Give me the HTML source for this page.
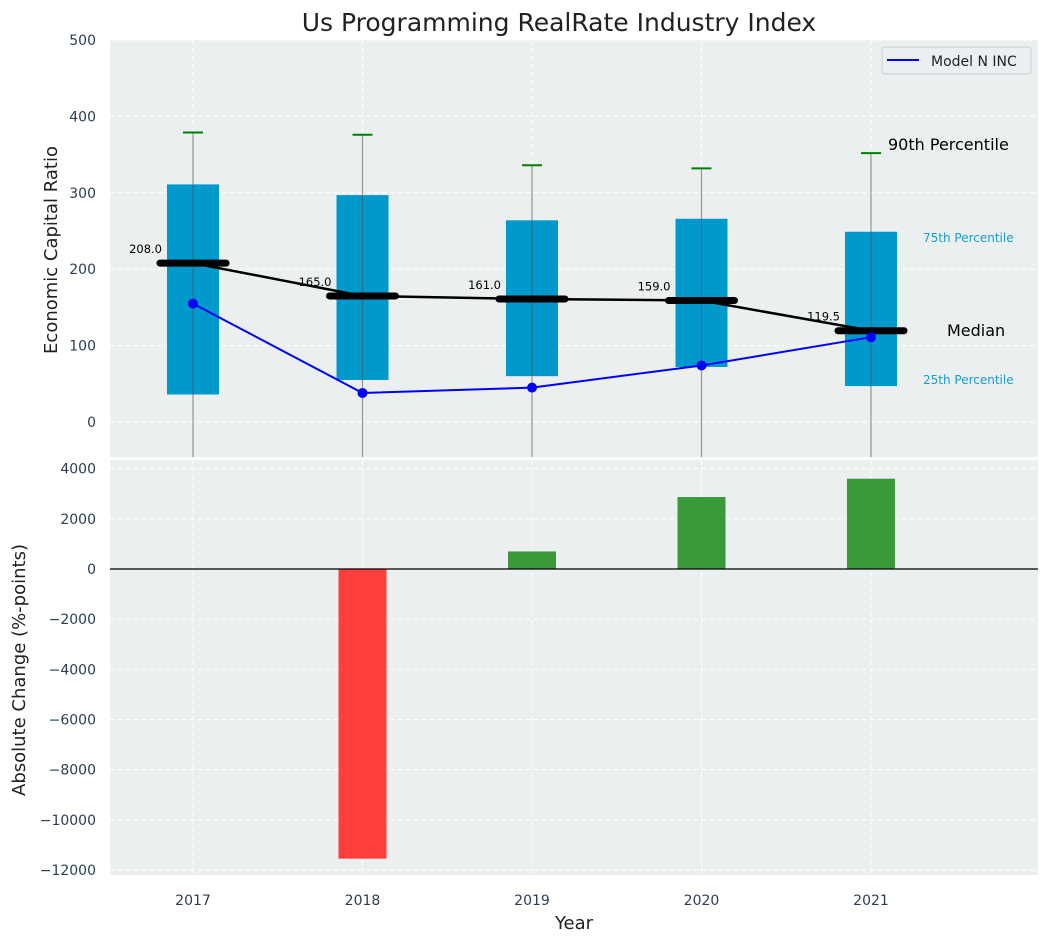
<!DOCTYPE html>
<html><head><meta charset="utf-8"><style>
body{margin:0;background:#fff;font-family:"Liberation Sans","DejaVu Sans",sans-serif}
svg text{font-family:"DejaVu Sans","Liberation Sans",sans-serif}
</style></head><body>
<svg id="c" width="1048" height="942" xmlns="http://www.w3.org/2000/svg"></svg>
<script>
const years=[2017,2018,2019,2020,2021];
const p90=[379,376,336,332,352];
const q3=[311,297,264,266,249];
const q1=[36,55,60,72,47];
const medians=[208,165,161,159,119.5];
const model=[155,38,45,74,111];
const changes=[0,-11550,700,2870,3600];
const topTicks=[0,100,200,300,400,500];
const botTicks=[4000,2000,0,-2000,-4000,-6000,-8000,-10000,-12000];

const svg=document.getElementById('c');const NS='http://www.w3.org/2000/svg';
function el(t,a,p){const e=document.createElementNS(NS,t);for(const k in a)e.setAttribute(k,a[k]);(p||svg).appendChild(e);return e;}
function txt(s,a,p){const e=el('text',a,p);e.textContent=s;return e;}
const L=110,R=1038;
const x=v=>193+(v-2017)*169.5;
const yT=v=>422-v*0.764;
const yB=v=>569-v*0.02508;
const gT=el('g',{});
el('rect',{x:L,y:40,width:R-L,height:417,fill:'#ebeff0'},gT);
topTicks.forEach(t=>{el('line',{x1:L,x2:R,y1:yT(t),y2:yT(t),stroke:'#fff','stroke-dasharray':'5,3'},gT);
const e=txt(t,{x:96,y:yT(t)+5,'text-anchor':'end','font-size':14,fill:'#2b3e55'},gT);});
years.forEach(yr=>el('line',{x1:x(yr),x2:x(yr),y1:40,y2:457,stroke:'#fff','stroke-dasharray':'5,3'},gT));
years.forEach((yr,i)=>{const cx=x(yr);
const b=el('rect',{x:cx-26,y:yT(q3[i]),width:52,height:yT(q1[i])-yT(q3[i]),fill:'#0099cc'},gT);

el('line',{x1:cx,x2:cx,y1:yT(p90[i]),y2:457,stroke:'#555','stroke-opacity':0.6,'stroke-width':1.2},gT);
const w=el('line',{x1:cx-10,x2:cx+10,y1:yT(p90[i]),y2:yT(p90[i]),stroke:'green','stroke-width':2},gT);
});
el('polyline',{points:years.map((yr,i)=>x(yr)+','+yT(medians[i])).join(' '),fill:'none',stroke:'#000','stroke-width':2.5},gT);
years.forEach((yr,i)=>{const cx=x(yr);
const m=el('line',{x1:cx-33,x2:cx+33,y1:yT(medians[i]),y2:yT(medians[i]),stroke:'#000','stroke-width':7,'stroke-linecap':'round'},gT);

const l=txt(medians[i].toFixed(1),{x:cx-31,y:yT(medians[i])-10,'text-anchor':'end','font-size':11.5,fill:'#000'},gT);
});
const ml=el('polyline',{points:years.map((yr,i)=>x(yr)+','+yT(model[i])).join(' '),fill:'none',stroke:'#0000ff','stroke-width':2},gT);

years.forEach((yr,i)=>{const d=el('circle',{cx:x(yr),cy:yT(model[i]),r:5,fill:'#0000ff'},gT);});
txt('90th Percentile',{x:888,y:150,'font-size':16,fill:'#000'},gT);
txt('75th Percentile',{x:923,y:242,'font-size':12,fill:'#1a9ccc'},gT);
txt('Median',{x:947,y:336,'font-size':16,fill:'#000'},gT);
txt('25th Percentile',{x:923,y:384,'font-size':12,fill:'#1a9ccc'},gT);
const lg=el('g',{},gT);
el('rect',{x:882,y:47,width:149,height:27,rx:3,fill:'#ebeef2',stroke:'#ccc'},lg);
el('line',{x1:887,x2:919,y1:60,y2:60,stroke:'#0000ff','stroke-width':2},lg);
txt('Model N INC',{x:931,y:66,'font-size':14,fill:'#222'},lg);
const gB=el('g',{});
el('rect',{x:L,y:460,width:R-L,height:415,fill:'#ebeff0'},gB);
botTicks.forEach(t=>{el('line',{x1:L,x2:R,y1:yB(t),y2:yB(t),stroke:'#fff','stroke-dasharray':'5,3'},gB);
const e=txt(t<0?'\u2212'+(-t):t,{x:96,y:yB(t)+5,'text-anchor':'end','font-size':14,fill:'#2b3e55'},gB);});
years.forEach(yr=>el('line',{x1:x(yr),x2:x(yr),y1:460,y2:875,stroke:'#fff','stroke-dasharray':'5,3'},gB));
years.forEach((yr,i)=>{const v=changes[i];
const e=txt(yr,{x:x(yr),y:905,'text-anchor':'middle','font-size':14,fill:'#2b3e55'},gB);

if(!v)return;
const b=el('rect',{x:x(yr)-24,y:Math.min(yB(v),yB(0)),width:48,height:Math.abs(yB(v)-yB(0)),fill:v<0?'#ff3e3e':'#3a9a3a'},gB);
});
el('line',{x1:L,x2:R,y1:yB(0),y2:yB(0),stroke:'#000','stroke-width':1.2},gB);
const t1=txt('Us Programming RealRate Industry Index',{x:559,y:31,'text-anchor':'middle','font-size':25,fill:'#222'});
const a1=txt('Economic Capital Ratio',{x:0,y:0,'text-anchor':'middle','font-size':18,fill:'#222',transform:'translate(57,250) rotate(-90)'});
const a2=txt('Absolute Change (%-points)',{x:0,y:0,'text-anchor':'middle','font-size':18,fill:'#222',transform:'translate(25,670) rotate(-90)'});
const a3=txt('Year',{x:574,y:929,'text-anchor':'middle','font-size':18,fill:'#222'});
</script>
</body></html>
